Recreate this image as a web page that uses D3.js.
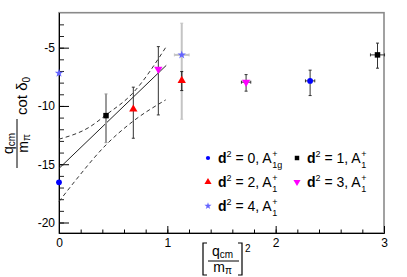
<!DOCTYPE html>
<html><head><meta charset="utf-8">
<script src="https://cdn.jsdelivr.net/npm/d3@7"></script>
<style>body{margin:0;background:#fff} text{font-family:"Liberation Sans",Arial,Helvetica,sans-serif;fill:#000}</style>
</head><body>
<svg id="c" width="407" height="277"></svg>
<script>
// ---- data ----
const xMajorTicks = [0, 1, 2, 3];
const yMajorTicks = [-5, -10, -15, -20];
const legendD = [0, 1, 2, 3, 4];
const legendIrrep = ["1g", "1", "1", "1", "1"];

// d^2 = 0, A1g+ (blue circles)
const d0X = [0, 2.318], d0Y = [-16.55, -7.85], d0Hi = [-16.55, -6.93], d0Lo = [-16.55, -9.11], d0Ex = [0, 0.043];
// d^2 = 1, A1+ (black squares)
const d1X = [0.434, 2.94], d1Y = [-10.83, -5.62], d1Hi = [-8.97, -4.61], d1Lo = [-13.15, -6.76], d1Ex = [0, 0.065];
// d^2 = 2, A1+ (red triangles)
const d2X = [0.686, 1.133], d2Y = [-10.28, -7.82], d2Hi = [-8.39, -7.05], d2Lo = [-12.77, -8.68], d2Ex = [0, 0];
// d^2 = 3, A1+ (magenta inverted triangles)
const d3X = [0.917, 1.727], d3Y = [-6.85, -7.96], d3Hi = [-4.91, -7.31], d3Lo = [-10.77, -8.73], d3Ex = [0, 0.043];
// d^2 = 4, A1+ (stars)
const d4X = [0, 1.133], d4Y = [-7.19, -5.62], d4Hi = [-7.19, -2.9], d4Lo = [-7.19, -11.14], d4Ex = [0, 0.068];

// linear fit and its band
const fitX = [0, 0.99], fitY = [-15.36, -6.52];
const bandUpX = [0, 0.28, 0.434, 0.68, 0.99], bandUpY = [-12.85, -11.82, -10.77, -8.91, -4.91];
const bandLoX = [0, 0.156, 0.434, 0.68, 0.985], bandLoY = [-18.2, -16.35, -13.34, -11.34, -9.48];

// ---- chart ----
const svg = d3.select("#c");
const x = d3.scaleLinear().domain([0, 3]).range([59, 384]);
const y = d3.scaleLinear().domain([-20.9, -2]).range([233, 12.7]);

// frame
svg.append("rect").attr("x", x(0)).attr("y", y(-2)).attr("width", x(3) - x(0)).attr("height", y(-20.9) - y(-2))
  .attr("fill", "none").attr("stroke", "#8a8a8a").attr("stroke-width", 1.6);

// axes
const fmt = d => String(d);
const gy = svg.append("g").attr("transform", `translate(${x(0)},0)`);
gy.call(d3.axisLeft(y).tickValues(d3.range(-20, -2, 1)).tickSize(-5).tickSizeOuter(0).tickFormat(""));
gy.call(g => g.selectAll(".tick line").attr("stroke", "#222"));
const gy2 = svg.append("g").attr("transform", `translate(${x(0)},0)`);
gy2.call(d3.axisLeft(y).tickValues(yMajorTicks).tickSize(-10).tickSizeOuter(0).tickPadding(4).tickFormat(fmt));
gy2.selectAll("text").style("font-size", "12px").style("font-family", "Liberation Sans, Arial, sans-serif");
svg.selectAll(".domain").attr("stroke", "#000");

const gx = svg.append("g").attr("transform", `translate(0,${y(-20.9)})`);
gx.call(d3.axisBottom(x).tickValues(d3.range(0, 3.01, 0.2)).tickSize(-3.5).tickSizeOuter(0).tickFormat(""));
const gx2 = svg.append("g").attr("transform", `translate(0,${y(-20.9)})`);
gx2.call(d3.axisBottom(x).tickValues(xMajorTicks).tickSize(-7).tickSizeOuter(0).tickPadding(5).tickFormat(fmt));
gx2.selectAll("text").style("font-size", "12px").style("font-family", "Liberation Sans, Arial, sans-serif");
svg.selectAll(".domain").attr("stroke", "#000");

// fit band and line
const line = d3.line().x(d => x(d[0])).y(d => y(d[1]));
const curve = d3.line().x(d => x(d[0])).y(d => y(d[1])).curve(d3.curveMonotoneX);
svg.append("path").attr("d", curve(d3.zip(bandUpX, bandUpY))).attr("fill", "none").attr("stroke", "#333").attr("stroke-width", 1).attr("stroke-dasharray", "4,3");
svg.append("path").attr("d", curve(d3.zip(bandLoX, bandLoY))).attr("fill", "none").attr("stroke", "#333").attr("stroke-width", 1).attr("stroke-dasharray", "4,3");
svg.append("path").attr("d", line(d3.zip(fitX, fitY))).attr("fill", "none").attr("stroke", "#222").attr("stroke-width", 1);

// series
const series = [
  {X: d0X, Y: d0Y, Hi: d0Hi, Lo: d0Lo, Ex: d0Ex, color: "#0000ff", sym: d3.symbolCircle, size: 26, rot: 0, bar: ["#333", "#333"], bw: [1, 1]},
  {X: d1X, Y: d1Y, Hi: d1Hi, Lo: d1Lo, Ex: d1Ex, color: "#000000", sym: d3.symbolSquare, size: 30, rot: 0, bar: ["#9a9a9a", "#333"], bw: [2, 1]},
  {X: d4X, Y: d4Y, Hi: d4Hi, Lo: d4Lo, Ex: d4Ex, color: "#6464ff", sym: d3.symbolStar, size: 22, rot: 0, bar: ["#333", "#c4c4c4"], bw: [1, 2]},
  {X: d2X, Y: d2Y, Hi: d2Hi, Lo: d2Lo, Ex: d2Ex, color: "#ff0000", sym: d3.symbolTriangle, size: 30, rot: 0, bar: ["#333", "#222"], bw: [1, 1.2]},
  {X: d3X, Y: d3Y, Hi: d3Hi, Lo: d3Lo, Ex: d3Ex, color: "#ff00ff", sym: d3.symbolTriangle, size: 30, rot: 180, bar: ["#333", "#333"], bw: [1, 1]}
];
series.forEach(s => {
  s.X.forEach((xv, i) => {
    const g = svg.append("g");
    const col = s.bar[i], w = s.bw[i];
    if (s.Hi[i] !== s.Lo[i]) {
      g.append("line").attr("x1", x(xv)).attr("x2", x(xv)).attr("y1", y(s.Hi[i])).attr("y2", y(s.Lo[i])).attr("stroke", col).attr("stroke-width", w);
      [s.Hi[i], s.Lo[i]].forEach(v => g.append("line").attr("x1", x(xv) - 1.5).attr("x2", x(xv) + 1.5).attr("y1", y(v)).attr("y2", y(v)).attr("stroke", col).attr("stroke-width", 1));
    }
    if (s.Ex[i] > 0) {
      g.append("line").attr("x1", x(xv - s.Ex[i])).attr("x2", x(xv + s.Ex[i])).attr("y1", y(s.Y[i])).attr("y2", y(s.Y[i])).attr("stroke", col).attr("stroke-width", w);
      [xv - s.Ex[i], xv + s.Ex[i]].forEach(v => g.append("line").attr("x1", x(v)).attr("x2", x(v)).attr("y1", y(s.Y[i]) - 1.5).attr("y2", y(s.Y[i]) + 1.5).attr("stroke", col).attr("stroke-width", 1));
    }
    g.append("path").attr("d", d3.symbol(s.sym, s.size)())
      .attr("transform", `translate(${x(xv)},${y(s.Y[i])}) rotate(${s.rot})`).attr("fill", s.color);
  });
});

// legend
const legendPos = [[208, 158], [297, 158], [208, 182], [297, 182], [208, 206]];
const legendSym = [d3.symbolCircle, d3.symbolSquare, d3.symbolTriangle, d3.symbolTriangle, d3.symbolStar];
const legendRot = [0, 0, 0, 180, 0];
const legendCol = ["#0000ff", "#000000", "#ff0000", "#ff00ff", "#6464ff"];
const legendSize = [14, 20, 22, 22, 16];
const lg = svg.append("g");
legendD.forEach((dv, i) => {
  const [px, py] = legendPos[i];
  lg.append("path").attr("d", d3.symbol(legendSym[i], legendSize[i])()).attr("transform", `translate(${px},${py}) rotate(${legendRot[i]})`).attr("fill", legendCol[i]);
  const tx = px + 10, ty = py + 5;
  const t = lg.append("text").attr("x", tx).attr("y", ty).style("font-size", "14px");
  t.append("tspan").attr("font-weight", "bold").text("d");
  t.append("tspan").attr("dy", -6).style("font-size", "9px").text("2");
  t.append("tspan").attr("dy", 6).text(" = " + dv + ", A");
  const w = t.node().getComputedTextLength();
  lg.append("text").attr("x", tx + w + 0.5).attr("y", ty - 6).style("font-size", "9px").text("+");
  lg.append("text").attr("x", tx + w + 0.5).attr("y", ty + 5).style("font-size", "9px").text(legendIrrep[i]);
});

// y-axis title (rotated)
const yt = svg.append("g").attr("transform", "rotate(-90)");
const fr0 = -168, fr1 = -119, fc = (fr0 + fr1) / 2;
yt.append("line").attr("x1", fr0).attr("x2", fr1).attr("y1", 17).attr("y2", 17).attr("stroke", "#000").attr("stroke-width", 1);
const num = yt.append("text").attr("x", fc).attr("y", 13).attr("text-anchor", "middle").style("font-size", "14px");
num.append("tspan").text("q");
num.append("tspan").attr("dy", 2).style("font-size", "10px").text("cm");
const den = yt.append("text").attr("x", fc).attr("y", 28).attr("text-anchor", "middle").style("font-size", "14px");
den.append("tspan").text("m");
den.append("tspan").attr("dy", 2).style("font-size", "10px").text("π");
const cot = yt.append("text").attr("x", -115).attr("y", 27).style("font-size", "15px");
cot.append("tspan").text("cot δ");
cot.append("tspan").attr("dy", 3).style("font-size", "10px").text("0");

// x-axis title [q_cm/m_pi]^2
const xt = svg.append("g");
const bl = 203, br = 242, bt = 243, bb = 275;
xt.append("path").attr("d", `M${bl + 4},${bt} H${bl} V${bb} H${bl + 4}`).attr("fill", "none").attr("stroke", "#000").attr("stroke-width", 1.2);
xt.append("path").attr("d", `M${br - 4},${bt} H${br} V${bb} H${br - 4}`).attr("fill", "none").attr("stroke", "#000").attr("stroke-width", 1.2);
xt.append("line").attr("x1", bl + 5).attr("x2", br - 3).attr("y1", 261).attr("y2", 261).attr("stroke", "#000").attr("stroke-width", 1);
const xn = xt.append("text").attr("x", (bl + br) / 2).attr("y", 256).attr("text-anchor", "middle").style("font-size", "14px");
xn.append("tspan").text("q");
xn.append("tspan").attr("dy", 2).style("font-size", "10px").text("cm");
const xd = xt.append("text").attr("x", (bl + br) / 2).attr("y", 272).attr("text-anchor", "middle").style("font-size", "14px");
xd.append("tspan").text("m");
xd.append("tspan").attr("dy", 2).style("font-size", "10px").text("π");
xt.append("text").attr("x", br + 3).attr("y", 252).style("font-size", "10px").text("2");
</script>
</body></html>
